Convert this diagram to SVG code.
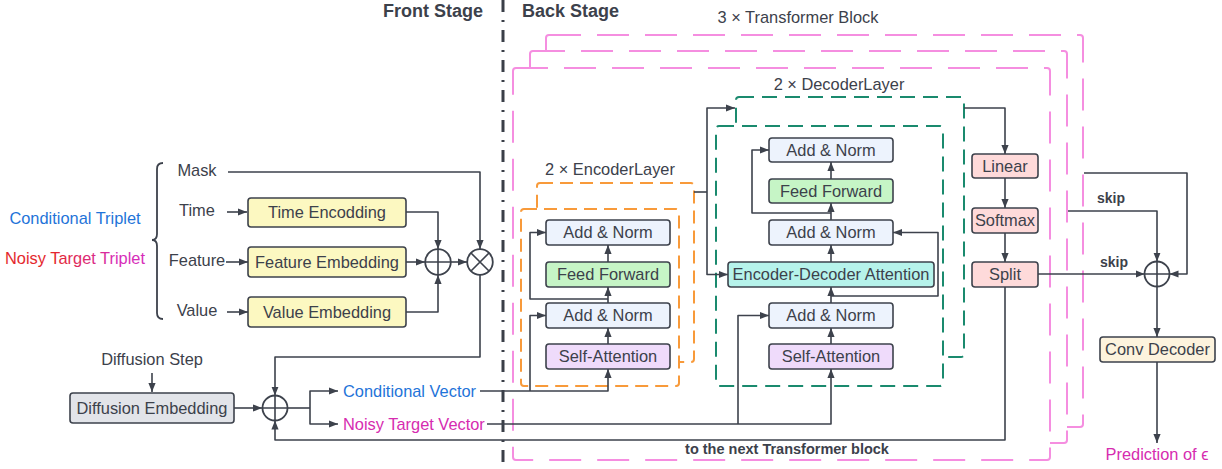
<svg xmlns="http://www.w3.org/2000/svg" width="1222" height="469" viewBox="0 0 1222 469">
<defs>
<marker id="ah" viewBox="0 0 10 10" refX="10" refY="5" markerWidth="9" markerHeight="9" markerUnits="userSpaceOnUse" orient="auto"><path d="M0,1 L10,5 L0,9 z" fill="#3d424c"/></marker>
<linearGradient id="ntg" x1="0" y1="0" x2="1" y2="0"><stop offset="0.35" stop-color="#e3262e"/><stop offset="0.8" stop-color="#d62cb8"/></linearGradient>
</defs>
<style>
text{font-family:"Liberation Sans",Arial,sans-serif;fill:#3c414b}
.t{font-size:16.4px;text-anchor:middle}
.l{font-size:16.4px}
.b{font-weight:bold}
.n rect{stroke:#3d424c;stroke-width:1.6}
.c{fill:none;stroke:#3d424c;stroke-width:1.6;stroke-linejoin:round}
.a{marker-end:url(#ah)}
.pink{fill:#fff;stroke:#f58ee0;stroke-width:2;stroke-dasharray:32 16}
.org{fill:#fff;stroke:#f89a3a;stroke-width:2;stroke-dasharray:13 7}
.teal{fill:#fff;stroke:#1a8a6e;stroke-width:2;stroke-dasharray:15 8}
.an{fill:#edf3fd}.ff{fill:#c6f5c6}.sa{fill:#efdbfb}.ed{fill:#b6f3eb}.rd{fill:#fedada}.yl{fill:#fcf8c1}
.op{fill:#fff;stroke:#3d424c;stroke-width:1.8}
</style>

<!-- stage divider -->
<line x1="503" y1="0" x2="503" y2="469" stroke="#3a3f48" stroke-width="3" stroke-dasharray="12 8 2 8"/>
<text x="433" y="17" class="t b" style="font-size:18px">Front Stage</text>
<text x="522" y="17" class="l b" style="font-size:18px">Back Stage</text>

<!-- transformer block stacks -->
<g id="transformer-blocks">
<rect x="546" y="35" width="537" height="392" rx="3" class="pink"/>
<rect x="530" y="51" width="537" height="392" rx="3" class="pink"/>
<rect x="513" y="68" width="537" height="392" rx="3" class="pink"/>
<text x="798" y="23" class="t">3 × Transformer Block</text>
</g>
<g id="encoder-layers">
<rect x="537" y="183" width="157" height="179" rx="3" class="org"/>
<rect x="521" y="209" width="158" height="177" rx="3" class="org"/>
<text x="610" y="175" class="t">2 × EncoderLayer</text>
</g>
<g id="decoder-layers">
<rect x="736" y="97" width="228" height="260" rx="3" class="teal"/>
<rect x="716" y="126" width="227" height="260" rx="3" class="teal"/>
<text x="839" y="90" class="t">2 × DecoderLayer</text>
</g>

<!-- connectors -->
<g id="connectors">
<path class="c a" d="M228,172 H480 V249"/>
<path class="c a" d="M227,212 H247"/>
<path class="c a" d="M226,262 H248"/>
<path class="c a" d="M227,312 H248"/>
<path class="c a" d="M406,212 H438 V249"/>
<path class="c a" d="M406,312 H438 V275"/>
<path class="c a" d="M406,262 H425"/>
<path class="c a" d="M451,262 H467"/>
<path class="c a" d="M480,275 V357 H275 V395.5"/>
<path class="c a" d="M152,373 V392"/>
<path class="c a" d="M234,408 H262"/>
<path class="c" d="M287.5,408 H310"/>
<path class="c a" d="M310,408 V391 H338"/>
<path class="c a" d="M310,408 V424 H338"/>
<path class="c a" d="M480,391 H608 V369"/>
<path class="c a" d="M530,391 V315.5 H546"/>
<path class="c a" d="M487,424 H831 V369"/>
<path class="c a" d="M738,424 V315.5 H769"/>
<path class="c a" d="M608,344 V328"/>
<path class="c a" d="M608,303 V287"/>
<path class="c a" d="M608,299 H530 V232.5 H546"/>
<path class="c a" d="M608,262 V245"/>
<path class="c" d="M694,192 H707"/>
<path class="c a" d="M707,192 V108 H735"/>
<path class="c a" d="M707,192 V274.5 H728"/>
<path class="c a" d="M831,344 V328"/>
<path class="c a" d="M831,303 V287"/>
<path class="c a" d="M831,296 H938 V232.5 H893"/>
<path class="c a" d="M831,262 V245"/>
<path class="c a" d="M831,220 V203"/>
<path class="c a" d="M831,213 H752 V150 H769"/>
<path class="c a" d="M831,179 V162"/>
<path class="c a" d="M964,108 H1005 V154"/>
<path class="c a" d="M1005,178 V208"/>
<path class="c a" d="M1005,233 V262"/>
<path class="c a" d="M1038,274 H1144.5"/>
<path class="c a" d="M1005,287 V440 H275 V420.5"/>
<path class="c a" d="M1084,173 H1187 V274 H1169.5"/>
<path class="c a" d="M1068,211 H1157 V261.5"/>
<path class="c a" d="M1157,286.5 V337"/>
<path class="c a" d="M1157,362 V443"/>
<text x="1097" y="203" class="l b" style="font-size:14px">skip</text>
<text x="1100" y="267" class="l b" style="font-size:14px">skip</text>
<text x="787" y="454" class="t b" style="font-size:14.5px">to the next Transformer block</text>
</g>

<!-- inputs -->
<g id="inputs">
<path d="M163,163 Q157,163 157,169 L157,234 Q157,240 152,240 Q157,240 157,246 L157,313 Q157,319 163,319" fill="none" stroke="#3d424c" stroke-width="1.8"/>
<text x="197" y="176" class="t">Mask</text>
<text x="197" y="216" class="t">Time</text>
<text x="197" y="266" class="t">Feature</text>
<text x="197" y="316" class="t">Value</text>
<text x="75" y="224" class="t" style="fill:#1f74d9">Conditional Triplet</text>
<text x="75" y="264" class="t" style="fill:url(#ntg)">Noisy Target Triplet</text>
</g>

<g id="time-encoding" class="n"><rect x="248" y="198" width="158" height="29" rx="3" class="yl"/><text x="327" y="218" class="t">Time Encodding</text></g>
<g id="feature-embedding" class="n"><rect x="248" y="247" width="158" height="30" rx="3" class="yl"/><text x="327" y="267.5" class="t">Feature Embedding</text></g>
<g id="value-embedding" class="n"><rect x="248" y="297" width="158" height="30" rx="3" class="yl"/><text x="327" y="317.5" class="t">Value Embedding</text></g>

<g id="add-op1"><circle cx="438" cy="262" r="12.8" class="op"/><path d="M425.2,262 H450.8 M438,249.2 V274.8" stroke="#3d424c" stroke-width="1.6"/></g>
<g id="mul-op"><circle cx="480" cy="262" r="12.8" class="op"/><path d="M471,253 L489,271 M489,253 L471,271" stroke="#3d424c" stroke-width="1.6"/></g>

<g id="diffusion-step"><text x="152" y="365" class="t">Diffusion Step</text></g>
<g id="diffusion-embedding" class="n"><rect x="70" y="393" width="164" height="30" rx="3" fill="#e2e4e9"/><text x="152" y="413.5" class="t">Diffusion Embedding</text></g>
<g id="add-op2"><circle cx="275" cy="408" r="12.5" class="op"/><path d="M262.5,408 H287.5 M275,395.5 V420.5" stroke="#3d424c" stroke-width="1.6"/></g>
<g id="conditional-vector"><text x="343" y="396.5" class="l" style="fill:#1f74d9">Conditional Vector</text></g>
<g id="noisy-target-vector"><text x="343" y="429.5" class="l" style="fill:#d62cb0">Noisy Target Vector</text></g>

<!-- encoder -->
<g id="enc-addnorm2" class="n"><rect x="546" y="220" width="124" height="25" rx="3" class="an"/><text x="608" y="238" class="t">Add &amp; Norm</text></g>
<g id="enc-ff" class="n"><rect x="546" y="262" width="124" height="25" rx="3" class="ff"/><text x="608" y="280" class="t">Feed Forward</text></g>
<g id="enc-addnorm1" class="n"><rect x="546" y="303" width="124" height="25" rx="3" class="an"/><text x="608" y="321" class="t">Add &amp; Norm</text></g>
<g id="enc-sa" class="n"><rect x="546" y="344" width="124" height="25" rx="3" class="sa"/><text x="608" y="362" class="t">Self-Attention</text></g>

<!-- decoder -->
<g id="dec-addnorm3" class="n"><rect x="769" y="138" width="124" height="24" rx="3" class="an"/><text x="831" y="155.5" class="t">Add &amp; Norm</text></g>
<g id="dec-ff" class="n"><rect x="769" y="179" width="124" height="24" rx="3" class="ff"/><text x="831" y="196.5" class="t">Feed Forward</text></g>
<g id="dec-addnorm2" class="n"><rect x="769" y="220" width="124" height="25" rx="3" class="an"/><text x="831" y="238" class="t">Add &amp; Norm</text></g>
<g id="dec-eda" class="n"><rect x="728" y="262" width="206" height="25" rx="3" class="ed"/><text x="831" y="280" class="t">Encoder-Decoder Attention</text></g>
<g id="dec-addnorm1" class="n"><rect x="769" y="303" width="124" height="25" rx="3" class="an"/><text x="831" y="321" class="t">Add &amp; Norm</text></g>
<g id="dec-sa" class="n"><rect x="769" y="344" width="124" height="25" rx="3" class="sa"/><text x="831" y="362" class="t">Self-Attention</text></g>

<!-- head -->
<g id="linear" class="n"><rect x="972" y="154" width="66" height="24" rx="3" class="rd"/><text x="1005" y="171.5" class="t">Linear</text></g>
<g id="softmax" class="n"><rect x="972" y="208" width="66" height="25" rx="3" class="rd"/><text x="1005" y="226" class="t">Softmax</text></g>
<g id="split" class="n"><rect x="972" y="262" width="66" height="25" rx="3" class="rd"/><text x="1005" y="280" class="t">Split</text></g>
<g id="add-op3"><circle cx="1157" cy="274" r="12.5" class="op"/><path d="M1144.5,274 H1169.5 M1157,261.5 V286.5" stroke="#3d424c" stroke-width="1.6"/></g>
<g id="conv-decoder" class="n"><rect x="1100" y="337" width="115" height="25" rx="3" fill="#fdf3dd"/><text x="1157.5" y="355" class="t">Conv Decoder</text></g>
<g id="prediction"><text x="1157" y="460" class="t" style="fill:#d62cb0">Prediction of ϵ</text></g>
</svg>
